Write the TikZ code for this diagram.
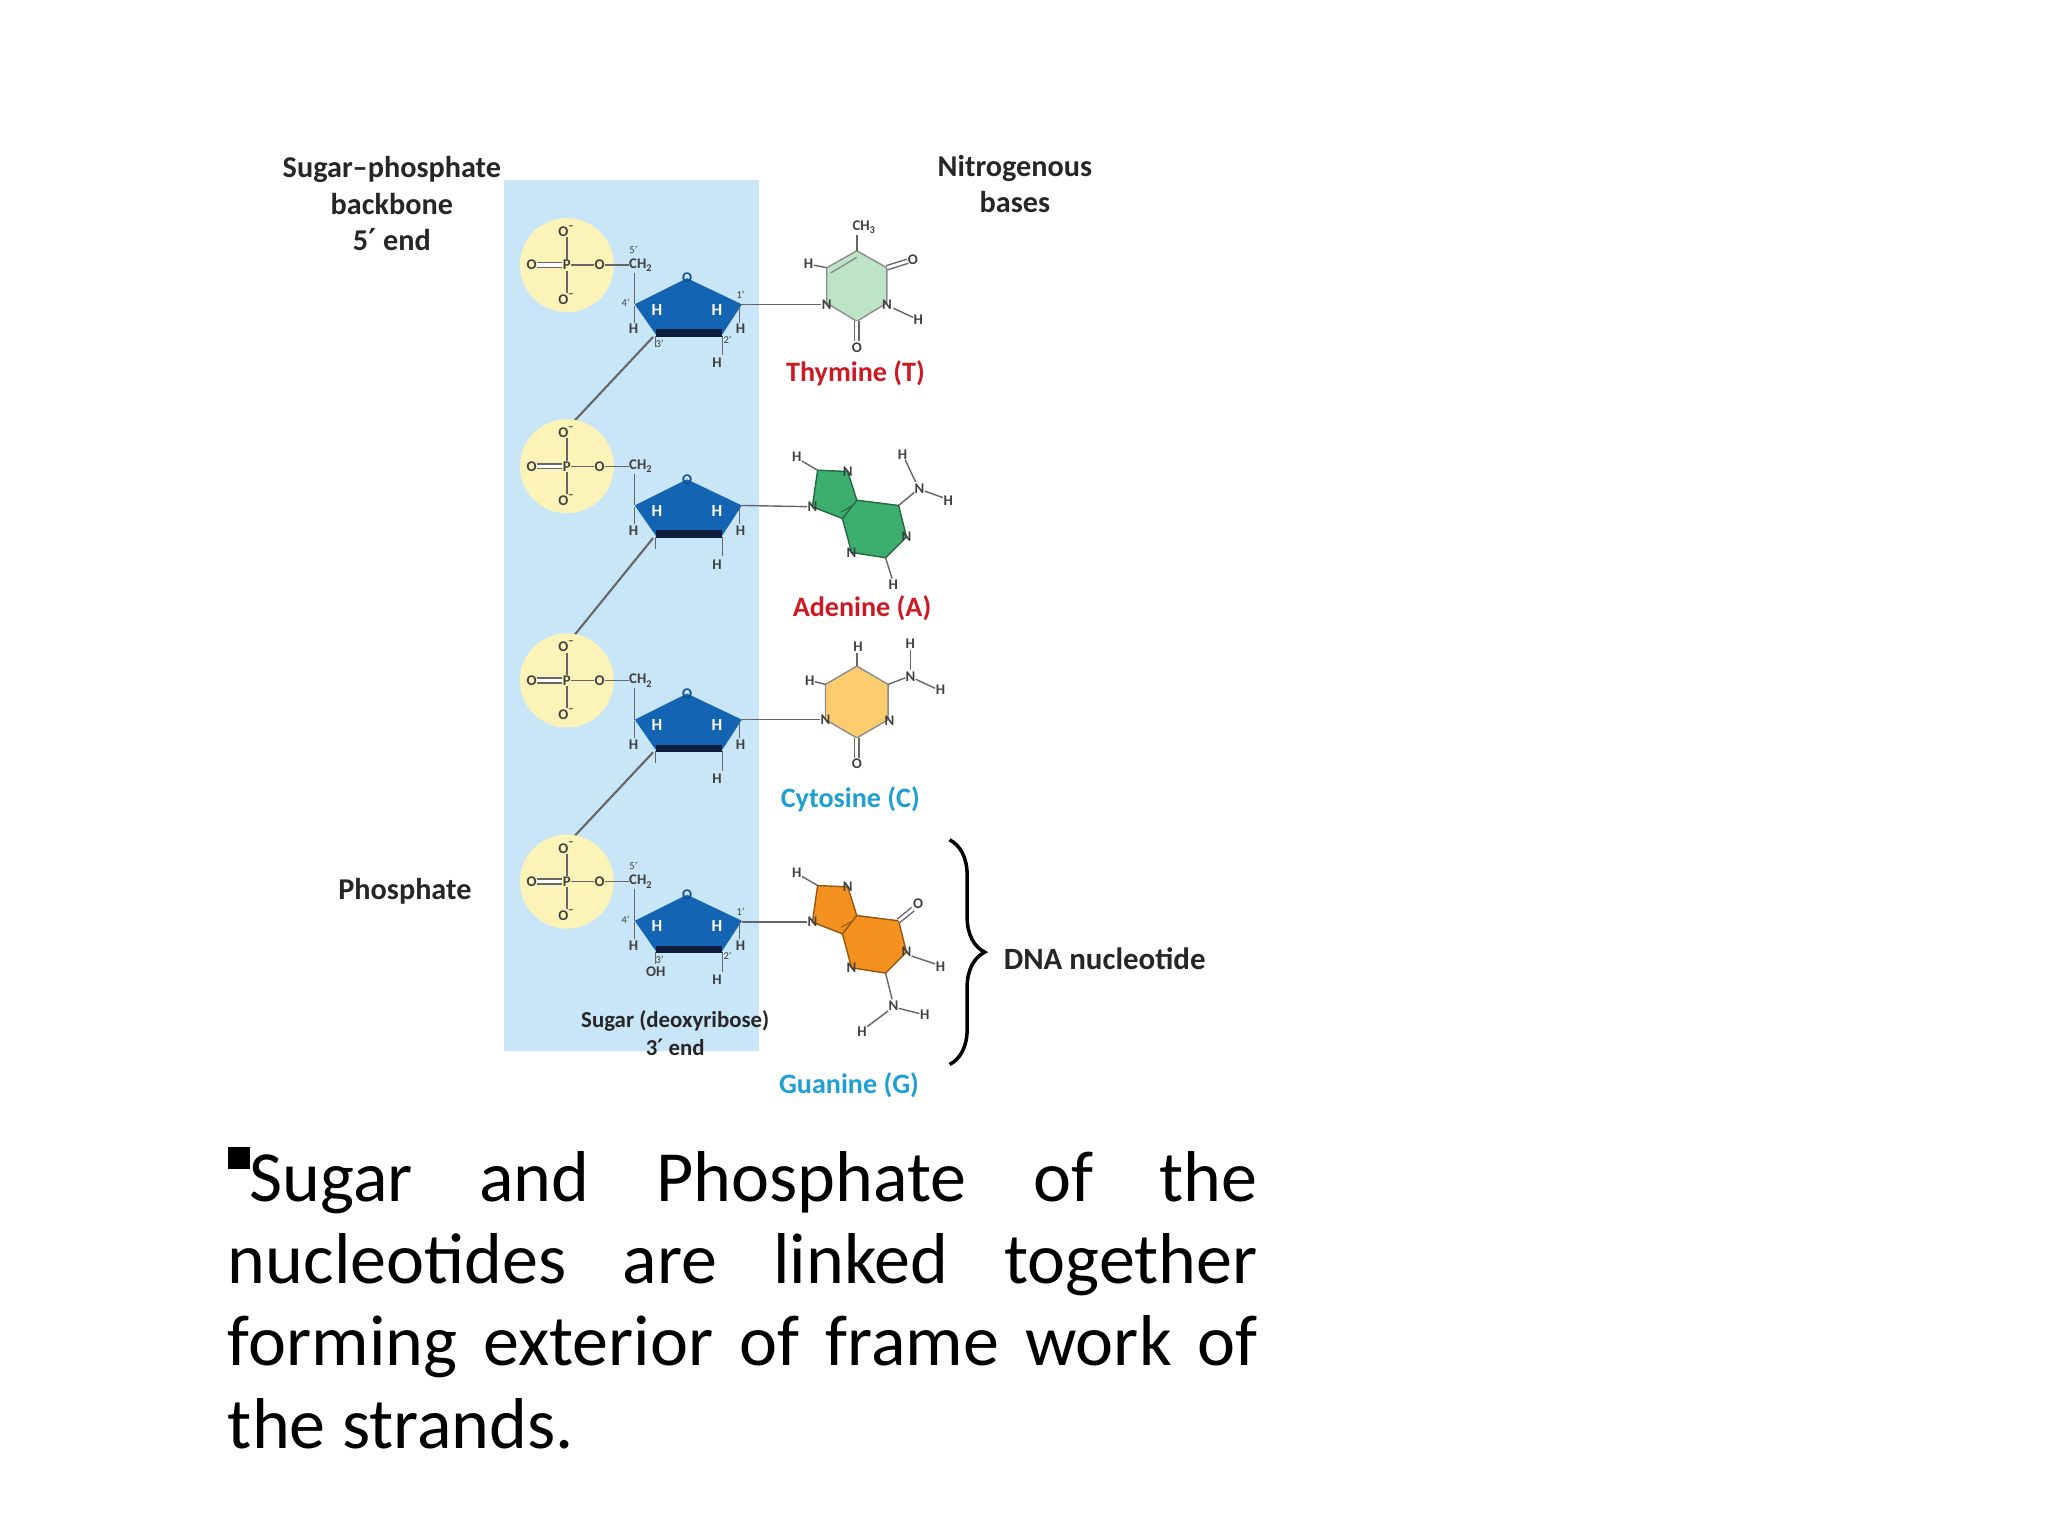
\documentclass[tikz,border=0pt]{standalone}
\usepackage{fontspec}
\setmainfont{Carlito}
\newfontfamily\primefont{DejaVu Sans}
\newcommand\pr{{\primefont ′}}
\usetikzlibrary{decorations.pathreplacing}
\definecolor{bgblue}{RGB}{200,230,248}
\definecolor{phos}{RGB}{252,243,185}
\definecolor{sug}{RGB}{20,100,180}
\definecolor{sugdark}{RGB}{15,30,60}
\definecolor{tcol}{RGB}{190,228,200}
\definecolor{acol}{RGB}{60,175,110}
\definecolor{ccol}{RGB}{252,205,110}
\definecolor{gcol}{RGB}{245,145,30}
\definecolor{redlab}{RGB}{205,25,35}
\definecolor{cyanlab}{RGB}{30,160,210}
\tikzset{
 atom/.style={inner sep=0pt,font=\fontsize{4.2}{5}\selectfont\bfseries,text=black!75},
 watom/.style={atom,text=white,font=\fontsize{4.8}{5}\selectfont\bfseries},
 prime/.style={atom,font=\fontsize{3}{3}\selectfont},
 bond/.style={draw=black!60,line width=0.4pt},
 head/.style={font=\fontsize{8.6}{10.4}\selectfont\bfseries,align=center,text=black!85},
 baselab/.style={font=\fontsize{8}{9}\selectfont\bfseries},
 ring/.style={draw=black!45,line width=0.4pt}
}
\newcommand\nucunit[3]{% #1 y shift, #2 primes (1/0), #3 3' substituent
\begin{scope}[shift={(0,#1)}]
 \fill[phos] (434,203) circle (36);
 \node[atom] (P) at (434,203) {P};
 \node[atom] (Oa) at (434,177) {O\textsuperscript{−}};
 \node[atom] (Ob) at (434,229) {O\textsuperscript{−}};
 \node[atom] (Oc) at (407,203) {O};
 \node[atom] (Od) at (459,203) {O};
 \node[atom] (CH) at (491,203) {CH\textsubscript{2}};
 \draw[bond] (P)--(Oa) (P)--(Ob) (P)--(Od) (Od)--(CH);
 \draw[bond,double,double distance=1pt] (Oc)--(P);
 \draw[bond] (486,209)--(486,233);
 \fill[sug] (486,233)--(526,213)--(568,233)--(553,256)--(502,256)--cycle;
 \draw[sugdark,line width=2.2pt] (502,255)--(553,255);
 \node[atom,text=sug!80!black] at (526,213) {O};
 \node[watom] at (503,237) {H};
 \node[watom] at (549,237) {H};
 \draw[bond] (486,234)--(486,247) (566,234)--(566,247) (553,257)--(553,272) (502,257)--(502,266);
 \node[atom] at (485,252) {H};
 \node[atom] at (567,252) {H};
 \node[atom] at (549,278) {H};
 \node[atom] at (502,272) {#3};
 \ifnum#2=1
  \node[prime] at (485,191) {5'};
  \node[prime] at (479,232) {4'};
  \node[prime] at (567,226) {1'};
  \node[prime] at (505,263) {3'};
  \node[prime] at (557,260) {2'};
 \fi
\end{scope}}
\newcommand\purine[1]{% #1 fill colour
 \fill[#1] (626,360)--(649,361)--(656,383)--(688,387)--(694,411)--(678,427)--(652,423)--(645,397)--(622,388)--cycle;
 \draw[ring,draw=#1!60!black] (626,360)--(649,361)--(656,383)--(688,387)--(694,411)--(678,427)--(652,423)--(645,397)--(622,388)--cycle (656,383)--(645,397);
 \draw[#1!60!black,line width=0.3pt] (653,387)--(644,392);
 \node[atom] at (649,361) {N};
 \node[atom] at (694,411) {N};
 \node[atom] at (652,423) {N};
 \node[atom] at (610,350) {H};
 \draw[bond] (614,353)--(626,360);
}
\begin{document}
\begin{tikzpicture}[x=0.01306cm,y=-0.01306cm]
\useasboundingbox (0,0) rectangle (1568,1176);
\fill[white] (0,0) rectangle (1568,1176);
\fill[bgblue] (386,138) rectangle (581,805);
% backbone links
\draw[bond,line width=0.6pt] (500,258)--(440,322);
\draw[bond,line width=0.6pt] (500,412)--(440,486);
\draw[bond,line width=0.6pt] (500,576)--(440,640);
\nucunit{0}{1}{}
\nucunit{154}{0}{}
\nucunit{318}{0}{}
\nucunit{472}{1}{OH}
% headers
\node[head] (hb) at (300,156) {Sugar–phosphate\\backbone\\5\pr{} end};
\node[head] (hn) at (777,141) {Nitrogenous\\bases};
\node[head] (hp) at (310,682) {Phosphate};
\node[head,font=\fontsize{6.5}{7.8}\selectfont\bfseries] (hs) at (517,791) {Sugar (deoxyribose)\\3\pr{} end};
\node[head,font=\fontsize{8.8}{10}\selectfont\bfseries,anchor=west] (hd) at (759,734) {DNA nucleotide};
\draw[line width=1pt,decorate,decoration={brace,amplitude=10}] (727,643)--(727,815);
% ---- Thymine
\fill[tcol] (656,192)--(679,205)--(679,232)--(656,246)--(633,232)--(633,205)--cycle;
\draw[ring] (656,192)--(679,205)--(679,232)--(656,246)--(633,232)--(633,205)--cycle;
\draw[ring] (636,209)--(656,197);
\coordinate (s1) at (568,233);
\node[atom] (tN) at (633,233) {N};
\draw[bond] (s1)--(tN);
\node[atom] at (679,233) {N};
\node[atom] at (703,245) {H};
\draw[bond] (684,236)--(699,243);
\node[atom] at (662,174) {CH\textsubscript{3}};
\draw[bond] (656,192)--(656,180);
\node[atom] at (699,199) {O};
\draw[bond,double,double distance=0.8pt] (679,205)--(695,200);
\node[atom] at (656,266) {O};
\draw[bond,double,double distance=0.8pt] (656,246)--(656,261);
\node[atom] at (619,202) {H};
\draw[bond] (623,203)--(633,205);
\node[baselab,text=redlab] (tl) at (655,286) {Thymine (T)};
% ---- Adenine
\purine{acol}
\node[atom] (aN) at (622,388) {N};
\draw[bond] (568,387)--(aN);
\node[atom] at (684,448) {H};
\draw[bond] (678,427)--(683,443);
\node[atom] at (704,374) {N};
\draw[bond] (688,387)--(700,377);
\node[atom] at (691,348) {H};
\draw[bond] (693,352)--(701,369);
\node[atom] at (726,383) {H};
\draw[bond] (708,376)--(722,381);
\node[baselab,text=redlab] (al) at (660,466) {Adenine (A)};
% ---- Cytosine
\fill[ccol] (656,510)--(680,524)--(680,551)--(656,565)--(632,551)--(632,524)--cycle;
\draw[ring] (656,510)--(680,524)--(680,551)--(656,565)--(632,551)--(632,524)--cycle;
\node[atom] (cN) at (632,551) {N};
\draw[bond] (568,551)--(cN);
\node[atom] at (681,552) {N};
\node[atom] at (657,495) {H};
\draw[bond] (656,500)--(656,510);
\node[atom] at (620,521) {H};
\draw[bond] (624,522)--(632,524);
\node[atom] at (697,518) {N};
\draw[bond] (680,524)--(693,519);
\node[atom] at (697,493) {H};
\draw[bond] (697,498)--(697,513);
\node[atom] at (720,528) {H};
\draw[bond] (701,520)--(716,527);
\node[atom] at (656,585) {O};
\draw[bond,double,double distance=0.8pt] (656,565)--(656,580);
\node[baselab,text=cyanlab] (cl) at (651,612) {Cytosine (C)};
% ---- Guanine
\begin{scope}[shift={(0,318)}]
\purine{gcol}
\node[atom] (gN) at (622,388) {N};
\draw[bond] (568,388)--(gN);
\node[atom] at (703,374) {O};
\draw[bond,double,double distance=0.8pt] (688,387)--(699,378);
\node[atom] at (720,422) {H};
\draw[bond] (698,414)--(716,420);
\node[atom] at (684,452) {N};
\draw[bond] (678,427)--(683,447);
\node[atom] at (708,459) {H};
\draw[bond] (688,454)--(704,458);
\node[atom] at (660,472) {H};
\draw[bond] (680,456)--(664,468);
\end{scope}
\node[baselab,text=cyanlab] (gl) at (650,831) {Guanine (G)};
% ---- bottom text
\node[anchor=north west,inner sep=0pt,text width=293pt,align=justify,font=\fontsize{20.5}{23.4}\selectfont] (txt) at (174,878)
 {\hyphenpenalty=10000\raisebox{0.45em}{\rule{0.3em}{0.3em}}Sugar and Phosphate of the\linebreak nucleotides are linked together\linebreak forming exterior of frame work of\linebreak the strands.};
\end{tikzpicture}
\end{document}
